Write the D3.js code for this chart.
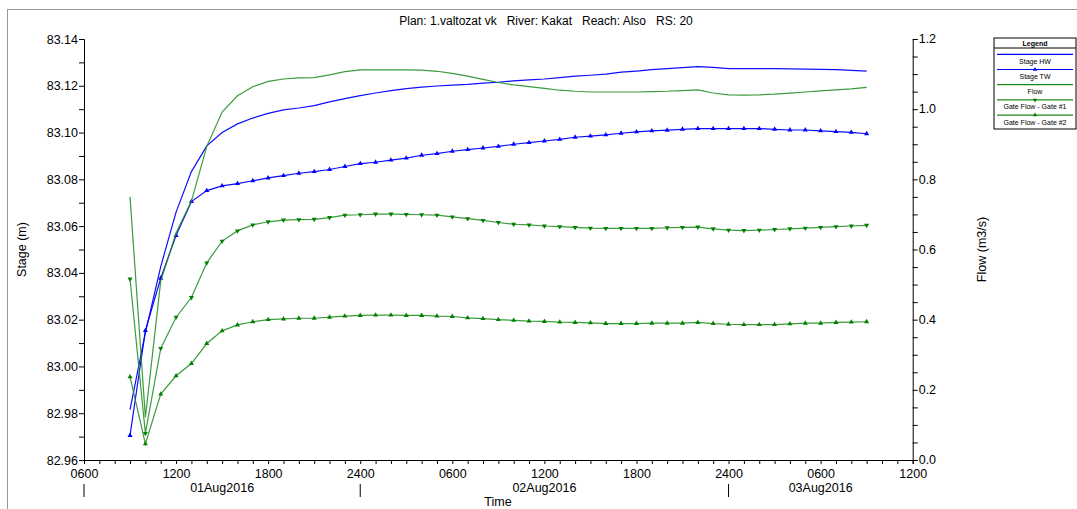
<!DOCTYPE html>
<html>
<head>
<meta charset="utf-8">
<script src="https://cdn.jsdelivr.net/npm/d3@7"></script>
<style>
  body { margin: 0; background: #fff; }
  svg { display: block; font-family: "Liberation Sans", Arial, sans-serif; }
</style>
</head>
<body>
<div id="chart"></div>
<script>
// hours counted from 01Aug2016 0000
var hours = [9, 10, 11, 12, 13, 14, 15, 16, 17, 18, 19, 20, 21, 22, 23, 24, 25, 26, 27, 28,
    29, 30, 31, 32, 33, 34, 35, 36, 37, 38, 39, 40, 41, 42, 43, 44, 45, 46, 47, 48,
    49, 50, 51, 52, 53, 54, 55, 56, 57];

var stageHW = [82.9815, 83.0145, 83.0427, 83.0660, 83.0833, 83.0943, 83.1000, 83.1037, 83.1062, 83.1082,
    83.1097, 83.1105, 83.1115, 83.1131, 83.1145, 83.1158, 83.1169, 83.1179, 83.1188, 83.1194,
    83.1199, 83.1203, 83.1206, 83.1211, 83.1215, 83.1221, 83.1225, 83.1229, 83.1235, 83.1241,
    83.1245, 83.1250, 83.1258, 83.1263, 83.1269, 83.1273, 83.1278, 83.1282, 83.1279, 83.1273,
    83.1273, 83.1273, 83.1273, 83.1272, 83.1271, 83.1270, 83.1269, 83.1266, 83.1263];

var stageTW = [82.9705, 83.0153, 83.0377, 83.0560, 83.0705, 83.0752, 83.0772, 83.0782, 83.0794, 83.0806,
    83.0816, 83.0826, 83.0833, 83.0842, 83.0855, 83.0867, 83.0873, 83.0882, 83.0891, 83.0903,
    83.0910, 83.0920, 83.0927, 83.0934, 83.0941, 83.0950, 83.0957, 83.0964, 83.0971, 83.0980,
    83.0985, 83.0990, 83.0997, 83.1003, 83.1007, 83.1010, 83.1014, 83.1017, 83.1017, 83.1017,
    83.1017, 83.1017, 83.1014, 83.1011, 83.1011, 83.1007, 83.1004, 83.1001, 83.0995];

var flow = [0.750, 0.122, 0.510, 0.647, 0.738, 0.894, 0.992, 1.038, 1.064, 1.079,
    1.086, 1.089, 1.090, 1.098, 1.107, 1.112, 1.112, 1.112, 1.112, 1.111,
    1.108, 1.102, 1.094, 1.085, 1.076, 1.069, 1.064, 1.059, 1.054, 1.051,
    1.049, 1.049, 1.049, 1.049, 1.050, 1.051, 1.053, 1.055, 1.046, 1.041,
    1.040, 1.041, 1.043, 1.046, 1.049, 1.052, 1.055, 1.058, 1.062];

var gate1 = [0.516, 0.076, 0.318, 0.407, 0.463, 0.562, 0.624, 0.653, 0.670, 0.679,
    0.684, 0.685, 0.686, 0.691, 0.698, 0.699, 0.701, 0.701, 0.700, 0.699,
    0.698, 0.693, 0.688, 0.683, 0.677, 0.672, 0.670, 0.667, 0.665, 0.663,
    0.661, 0.660, 0.660, 0.660, 0.660, 0.662, 0.663, 0.664, 0.659, 0.655,
    0.654, 0.655, 0.657, 0.659, 0.661, 0.663, 0.665, 0.667, 0.669];

var gate2 = [0.237, 0.046, 0.188, 0.240, 0.275, 0.332, 0.368, 0.385, 0.394, 0.400,
    0.402, 0.404, 0.404, 0.407, 0.410, 0.412, 0.413, 0.413, 0.412, 0.412,
    0.410, 0.409, 0.405, 0.403, 0.400, 0.398, 0.396, 0.395, 0.393, 0.392,
    0.391, 0.389, 0.389, 0.389, 0.390, 0.390, 0.390, 0.392, 0.389, 0.387,
    0.386, 0.386, 0.386, 0.388, 0.390, 0.390, 0.392, 0.393, 0.394];

var xTickHours = [6, 12, 18, 24, 30, 36, 42, 48, 54, 60];
var xTickLabels = ["0600", "1200", "1800", "2400", "0600", "1200", "1800", "2400", "0600", "1200"];
var dayLabels = ["01Aug2016", "02Aug2016", "03Aug2016"];
var dayLabelHours = [15, 36, 54];
var dayBreakHours = [6, 24, 48];

var title = "Plan: 1.valtozat vk   River: Kakat   Reach: Also   RS: 20";

var W = 1077, H = 509,
    margin = {top: 39, left: 84, right: 164.3, bottom: 49};
var width = W - margin.left - margin.right,
    height = H - margin.top - margin.bottom;

var svg = d3.select("#chart").append("svg")
    .attr("width", W)
    .attr("height", H);

// window frame edges
svg.append("line").attr("x1", 7).attr("x2", W).attr("y1", 9.5).attr("y2", 9.5)
    .style("stroke", "#999").style("stroke-width", 1);
svg.append("line").attr("x1", 7.5).attr("x2", 7.5).attr("y1", 9).attr("y2", H)
    .style("stroke", "#999").style("stroke-width", 1);

svg.append("text")
    .attr("x", 546).attr("y", 25)
    .attr("text-anchor", "middle")
    .style("font-size", "12px")
    .style("white-space", "pre")
    .attr("xml:space", "preserve")
    .text(title);

var g = svg.append("g")
    .attr("transform", "translate(" + margin.left + "," + margin.top + ")");

var x = d3.scaleLinear().domain([6, 60]).range([0, width]);
var yStage = d3.scaleLinear().domain([82.96, 83.14]).range([height, 0]);
var yFlow = d3.scaleLinear().domain([0, 1.2]).range([height, 0]);

// axes
var fontSize = "12.5px";

var yLeft = g.append("g")
    .call(d3.axisLeft(yStage).tickValues(d3.range(0, 19).map(function(i) { return 82.96 + i * 0.01; }))
        .tickSize(5).tickFormat(function(d, i) { return i % 2 === 0 ? d3.format(".2f")(d) : ""; }));

var yRight = g.append("g")
    .attr("transform", "translate(" + width + ",0)")
    .call(d3.axisRight(yFlow).tickValues(d3.range(0, 25).map(function(i) { return i * 0.05; }))
        .tickSize(5).tickFormat(function(d, i) { return i % 4 === 0 ? d3.format(".1f")(d) : ""; }));

var xAxis = g.append("g")
    .attr("transform", "translate(0," + height + ")")
    .call(d3.axisBottom(x).tickValues(d3.range(6, 61)).tickSize(4)
        .tickFormat(function(d) {
            var k = xTickHours.indexOf(d);
            return k >= 0 ? xTickLabels[k] : "";
        }));

[yLeft, yRight, xAxis].forEach(function(a) {
    a.select(".domain").style("stroke", "#000");
    a.selectAll(".tick line").style("stroke", "#000");
    a.selectAll("text").style("font-size", fontSize)
        .style("font-family", "'Liberation Sans', Arial, sans-serif").attr("fill", "#000");
});
yLeft.selectAll("text").attr("x", -6);
yRight.selectAll("text").attr("x", 6).attr("dy", "0.3em");
xAxis.selectAll("text").attr("y", 9);

// date row
g.selectAll(".day-label")
    .data(dayLabels)
    .enter().append("text")
    .attr("class", "day-label")
    .attr("x", function(d, i) { return x(dayLabelHours[i]); })
    .attr("y", height + 32)
    .attr("text-anchor", "middle")
    .style("font-size", fontSize)
    .text(function(d) { return d; });

g.selectAll(".day-break")
    .data(dayBreakHours)
    .enter().append("line")
    .attr("class", "day-break")
    .attr("x1", function(d) { return x(d); })
    .attr("x2", function(d) { return x(d); })
    .attr("y1", height + 24)
    .attr("y2", height + 37)
    .style("stroke", "#000");

g.append("text")
    .attr("x", 414).attr("y", height + 46)
    .attr("text-anchor", "middle")
    .style("font-size", fontSize)
    .text("Time");

g.append("text")
    .attr("transform", "translate(" + (-58) + "," + (height / 2) + ") rotate(-90)")
    .attr("text-anchor", "middle")
    .style("font-size", fontSize)
    .text("Stage (m)");

g.append("text")
    .attr("transform", "translate(" + (width + 73) + "," + (height / 2) + ") rotate(-90)")
    .attr("text-anchor", "middle")
    .style("font-size", fontSize)
    .text("Flow (m3/s)");

// series
var series = [
    {name: "Stage HW", values: stageHW, y: yStage, color: "#0000ff", marker: null},
    {name: "Stage TW", values: stageTW, y: yStage, color: "#0000ff", marker: "up"},
    {name: "Flow", values: flow, y: yFlow, color: "#1a8a1a", marker: null},
    {name: "Gate Flow - Gate #1", values: gate1, y: yFlow, color: "#1a8a1a", marker: "down"},
    {name: "Gate Flow - Gate #2", values: gate2, y: yFlow, color: "#1a8a1a", marker: "up"}
];

var tri = d3.symbol().type(d3.symbolTriangle).size(11);

series.forEach(function(s) {
    var line = d3.line()
        .x(function(d, i) { return x(hours[i]); })
        .y(function(d) { return s.y(d); });

    g.append("path")
        .datum(s.values)
        .attr("d", line)
        .style("fill", "none")
        .style("stroke", s.color)
        .style("stroke-width", 1.2)
        .style("stroke-opacity", s.color === "#0000ff" ? 0.95 : 0.85);

    if (s.marker) {
        g.selectAll(null)
            .data(s.values)
            .enter().append("path")
            .attr("d", tri)
            .attr("transform", function(d, i) {
                return "translate(" + x(hours[i]) + "," + s.y(d) + ")" + (s.marker === "down" ? " rotate(180)" : "");
            })
            .style("fill", s.color === "#0000ff" ? "#0000ff" : "#008000");
    }
});

// legend
var lg = svg.append("g").attr("transform", "translate(994,38)");
var lgW = 82, lgH = 91;
lg.append("rect")
    .attr("width", lgW).attr("height", lgH)
    .style("fill", "#fff").style("stroke", "#000").style("stroke-width", 1);
lg.append("text")
    .attr("x", lgW / 2).attr("y", 7.5)
    .attr("text-anchor", "middle")
    .style("font-size", "7px").style("font-weight", "bold")
    .text("Legend");
lg.append("line")
    .attr("x1", 0).attr("x2", lgW).attr("y1", 10).attr("y2", 10)
    .style("stroke", "#000");

var entry = lg.selectAll(".entry")
    .data(series)
    .enter().append("g")
    .attr("class", "entry")
    .attr("transform", function(d, i) { return "translate(0," + (16.3 + i * 15.2) + ")"; });

entry.append("line")
    .attr("x1", 3).attr("x2", lgW - 3)
    .attr("y1", 0).attr("y2", 0)
    .style("stroke", function(d) { return d.color; })
    .style("stroke-width", 1.2);

entry.filter(function(d) { return d.marker; })
    .append("path")
    .attr("d", d3.symbol().type(d3.symbolTriangle).size(8))
    .attr("transform", function(d) { return "translate(" + (lgW / 2) + ",0)" + (d.marker === "down" ? " rotate(180)" : ""); })
    .style("fill", function(d) { return d.color === "#0000ff" ? "#0000ff" : "#008000"; });

entry.append("text")
    .attr("x", lgW / 2).attr("y", 9.5)
    .attr("text-anchor", "middle")
    .style("font-size", "7px")
    .text(function(d) { return d.name; });
</script>
</body>
</html>
